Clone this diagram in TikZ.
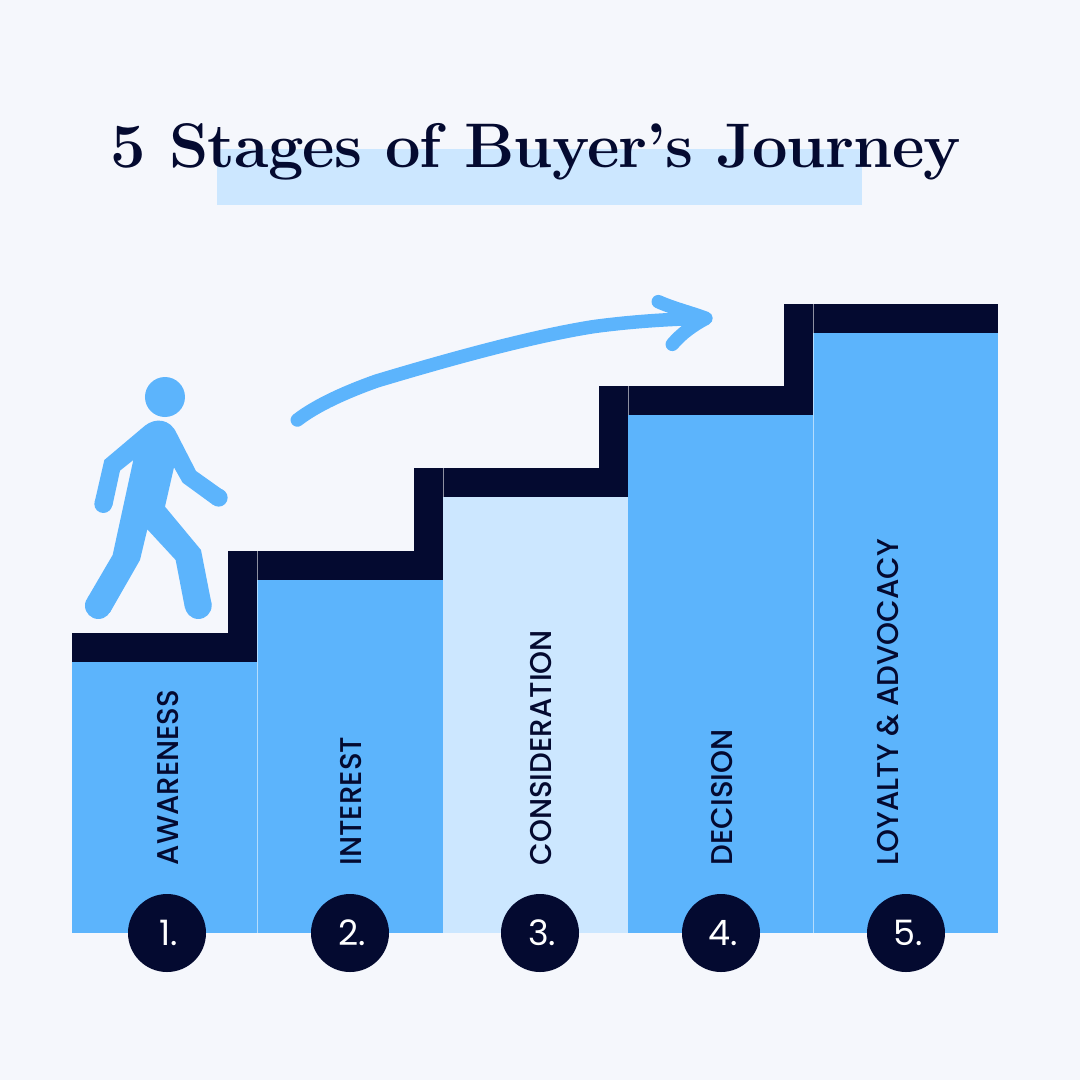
\documentclass[tikz,border=0pt]{standalone}
\usepackage{fontspec}
\usepackage{graphicx}
\setmainfont{Poppins}
\newfontfamily\titlefont[LetterSpace=-1.3]{Latin Modern Roman}
\newfontfamily\labfont{Poppins Medium}
\newcommand\stg[1]{\scalebox{0.975}[1]{#1}}
\definecolor{bgc}{HTML}{F5F7FC}
\definecolor{bluec}{HTML}{5CB4FC}
\definecolor{lightc}{HTML}{CCE7FF}
\definecolor{navyc}{HTML}{040A30}
\tikzset{
  stair/.style={fill=navyc,draw=none},
  col/.style={fill=bluec,draw=none},
  seam/.style={draw=white,draw opacity=0.55,line width=0.8pt},
  numdot/.style={circle,fill=navyc,minimum size=78pt,inner sep=0pt,text=white,font=\fontsize{35}{35}\selectfont,execute at begin node=\hspace*{4pt}},
  stagelab/.style={rotate=90,anchor=west,text=navyc,inner sep=0pt,font=\labfont\fontsize{30}{30}\selectfont},
  pen/.style={draw=bluec,line cap=round,line join=round,line width=13.5pt}
}
\begin{document}
\begin{tikzpicture}[x=1pt,y=-1pt]
\useasboundingbox (0,0) rectangle (1080,1080);
\fill[bgc] (0,0) rectangle (1080,1080);
% title
\fill[lightc] (217,149) rectangle (862,205);
\node[text=navyc,inner sep=0pt,anchor=base] (title) at (536,167) {\titlefont\bfseries\fontsize{63}{63}\selectfont 5 Stages of Buyer’s Journey};
% columns
\fill[col] (72,662) rectangle (257,933);
\fill[col] (257,580) rectangle (443,933);
\fill[lightc] (443,497) rectangle (628,933);
\fill[col] (628,415) rectangle (813,933);
\fill[col] (813,333) rectangle (998,933);
% stairs
\fill[stair] (72,633) rectangle (257,662);
\fill[stair] (228,551) rectangle (257,633);
\fill[stair] (257,551) rectangle (443,580);
\fill[stair] (414,468) rectangle (443,551);
\fill[stair] (443,468) rectangle (628,497);
\fill[stair] (599,386) rectangle (628,468);
\fill[stair] (628,386) rectangle (813,415);
\fill[stair] (784,304) rectangle (813,386);
\fill[stair] (813,304) rectangle (998,333);
% seams
\draw[seam] (257.4,551) -- (257.4,933);
\draw[seam] (813.4,304) -- (813.4,933);
\draw[seam] (628.4,386) -- (628.4,415);
\draw[seam] (443.4,468) -- (443.4,497);
% walker, drawn in crop coordinates
\begin{scope}[shift={(60,360)},x=0.3333pt,y=-0.3333pt]
\fill[bluec] (315,111) circle[radius=60];
\fill[bluec] (130,432) circle[radius=27];
\fill[bluec] (476,413) circle[radius=27];
\fill[bluec] (115,737) circle[radius=40];
\fill[bluec] (415,737) circle[radius=40];
\fill[bluec] (255,197) .. controls (285,173) and (330,175) .. (350,220)
  -- (408,333) -- (491,392) -- (460,435) -- (368,368) -- (342,322) -- (315,440)
  -- (423,570) -- (455,733) -- (375,745) -- (347,600) -- (262,508) -- (240,600)
  -- (149,759) -- (82,715) -- (158,585) -- (220,300) -- (180,332) -- (157,438)
  -- (104,426) -- (133,300) -- cycle;
\end{scope}
% arrow
\begin{scope}[shift={(280,280)},x=0.3333pt,y=-0.3333pt]
\draw[pen] (52,420) .. controls (110,375) and (200,335) .. (290,303)
  .. controls (500,240) and (750,170) .. (940,140)
  .. controls (1050,125) and (1170,117) .. (1275,115);
\draw[pen] (1135,65) .. controls (1180,85) and (1230,97) .. (1278,115)
  .. controls (1240,135) and (1205,160) .. (1177,193);
\end{scope}
% labels
\node[stagelab] (l1) at (168,865.5) {\stg{AWARENESS}};
\node[stagelab] (l2) at (351,865.5) {\stg{INTEREST}};
\node[stagelab] (l3) at (541,865.5) {\stg{CONSIDERATION}};
\node[stagelab] (l4) at (722,865.5) {\stg{DECISION}};
\node[stagelab] (l5) at (888,865.5) {\stg{LOYALTY \& ADVOCACY}};
% numbers
\node[numdot] (n1) at (167,933) {1.};
\node[numdot] (n2) at (350,933) {2.};
\node[numdot] (n3) at (540,933) {3.};
\node[numdot] (n4) at (721,933) {4.};
\node[numdot] (n5) at (906,933) {5.};
\end{tikzpicture}
\end{document}
